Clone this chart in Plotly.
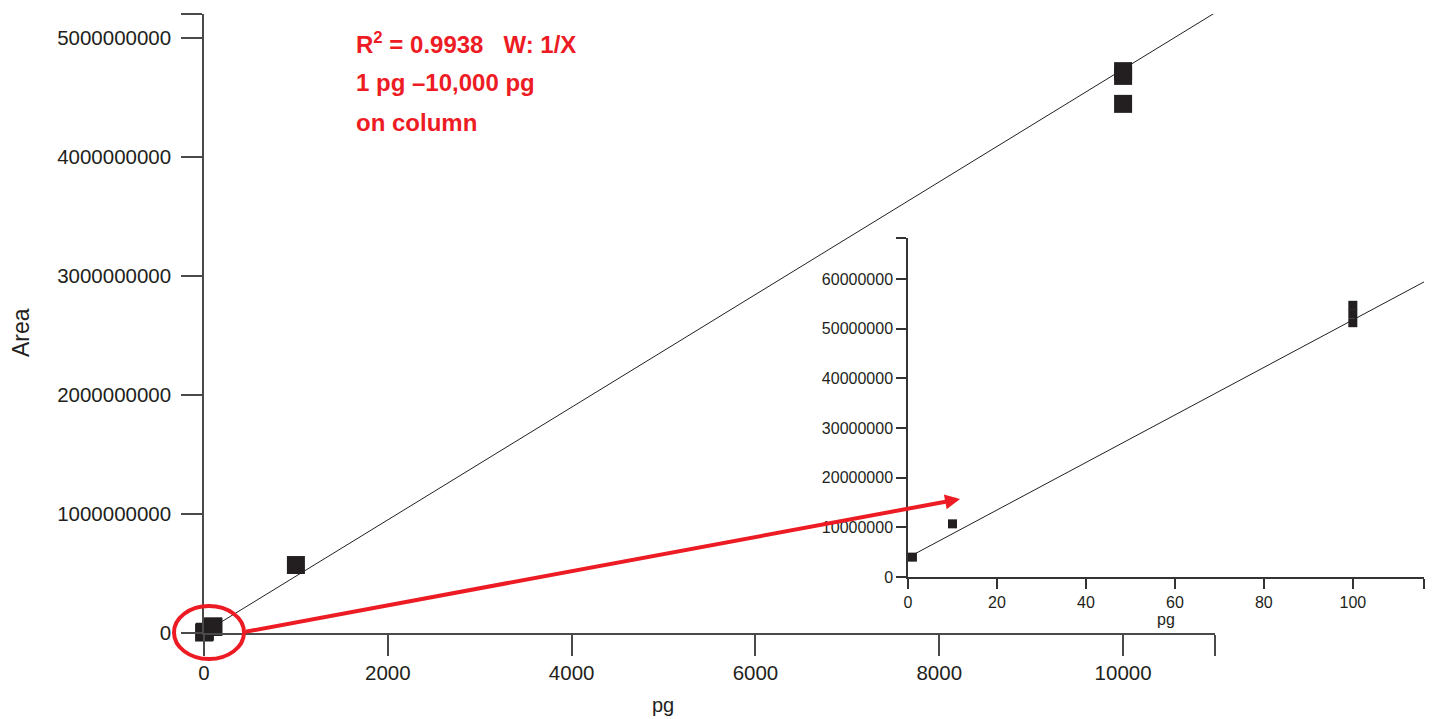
import plotly.graph_objects as go

# ---- data ----
amount_pg = [1, 10, 100, 100, 100, 1000, 10000, 10000, 10000]
area = [4.0e6, 1.07e7, 5.47e7, 5.30e7, 5.12e7, 5.71e8, 4.72e9, 4.68e9, 4.445e9]

# calibration line end points as drawn
main_fit_x = [1, 11000]
main_fit_y = [4.4e6, 5.21e9]
inset_fit_x = [1, 116.4]
inset_fit_y = [4.4e6, 5.96e7]

inset_max_x = 116
main_xticks = [0, 2000, 4000, 6000, 8000, 10000, 11000]
main_xtext = ["0", "2000", "4000", "6000", "8000", "10000", ""]
main_yticks = [0, 1e9, 2e9, 3e9, 4e9, 5e9, 5.2e9]
main_ytext = ["0", "1000000000", "2000000000", "3000000000", "4000000000", "5000000000", ""]
inset_xticks = [0, 20, 40, 60, 80, 100, 116]
inset_xtext = ["0", "20", "40", "60", "80", "100", ""]
inset_yticks = [0, 1e7, 2e7, 3e7, 4e7, 5e7, 6e7, 6.825e7]
inset_ytext = ["0", "10000000", "20000000", "30000000", "40000000", "50000000", "60000000", ""]

inset_x = [x for x in amount_pg if x <= inset_max_x]
inset_y = [y for x, y in zip(amount_pg, area) if x <= inset_max_x]

DARK = "#231F20"
AXIS = "#4a4a4a"
RED = "#ED1C24"
FONT = "Liberation Sans, Arial, sans-serif"

# screen layout (page body has an 8px margin)
BODY = 8
PLOT_L, PLOT_R, PLOT_T, PLOT_B = 204, 1424, 14, 633
W, H = 1437 - BODY, 719 - BODY


def px(sx):
    return (sx - PLOT_L) / (PLOT_R - PLOT_L)


def py(sy):
    return (PLOT_B - sy) / (PLOT_B - PLOT_T)


fig = go.Figure()

fig.add_trace(go.Scatter(x=main_fit_x, y=main_fit_y, mode="lines",
                         line=dict(color=DARK, width=1), xaxis="x", yaxis="y",
                         showlegend=False, hoverinfo="skip"))
fig.add_trace(go.Scatter(x=amount_pg, y=area, mode="markers",
                         marker=dict(symbol="square", size=18, color=DARK, line=dict(width=0)),
                         xaxis="x", yaxis="y", cliponaxis=False, showlegend=False))

fig.add_trace(go.Scatter(x=inset_fit_x, y=inset_fit_y, mode="lines",
                         line=dict(color=DARK, width=1), xaxis="x2", yaxis="y2",
                         showlegend=False, hoverinfo="skip"))
fig.add_trace(go.Scatter(x=inset_x, y=inset_y, mode="markers",
                         marker=dict(symbol="square", size=9, color=DARK, line=dict(width=0)),
                         xaxis="x2", yaxis="y2", cliponaxis=False, showlegend=False))

main_axis = dict(showline=True, linewidth=1.5, linecolor=AXIS, ticks="outside",
                 ticklen=21, tickwidth=1.5, tickcolor=AXIS, showgrid=False,
                 zeroline=False, tickfont=dict(family=FONT, size=20.5, color=DARK))
inset_axis = dict(showline=True, linewidth=1.5, linecolor="#333333", ticks="outside",
                  ticklen=10, tickwidth=1.5, tickcolor="#333333", showgrid=False,
                  zeroline=False, tickfont=dict(family=FONT, size=16, color=DARK))

fig.update_layout(
    width=W, height=H, autosize=False,
    margin=dict(l=PLOT_L - BODY, r=W - (PLOT_R - BODY), t=PLOT_T - BODY, b=H - (PLOT_B - BODY)),
    paper_bgcolor="white", plot_bgcolor="rgba(0,0,0,0)",
    showlegend=False,
    xaxis=dict(main_axis, domain=[0, px(1215)], range=[0, 11000], anchor="y",
               tickmode="array", tickvals=main_xticks, ticktext=main_xtext),
    yaxis=dict(main_axis, domain=[0, 1], range=[0, 5.2e9], anchor="x",
               tickmode="array", tickvals=main_yticks, ticktext=main_ytext,
               ticklabelstandoff=6),
    xaxis2=dict(inset_axis, domain=[px(908), 1], range=[0, inset_max_x], anchor="y2",
                tickmode="array", tickvals=inset_xticks, ticktext=inset_xtext,
                title=dict(text="pg", font=dict(family=FONT, size=16, color=DARK), standoff=0)),
    yaxis2=dict(inset_axis, domain=[py(577), py(238)], range=[0, 6.825e7], anchor="x2",
                tickmode="array", tickvals=inset_yticks, ticktext=inset_ytext),
)

# axis titles of the main chart
fig.add_annotation(text="pg", xref="paper", yref="paper", x=px(663), y=py(705),
                   showarrow=False, font=dict(family=FONT, size=20, color=DARK),
                   xanchor="center", yanchor="middle")
fig.add_annotation(text="Area", xref="paper", yref="paper", x=px(21), y=py(333),
                   showarrow=False, textangle=-90, font=dict(family=FONT, size=23, color=DARK),
                   xanchor="center", yanchor="middle")

# red notes
notes = ["<b>R<sup>2</sup>\u00a0= 0.9938\u00a0\u00a0\u00a0W: 1/X</b>",
         "<b>1 pg \u201310,000 pg</b>",
         "<b>on column</b>"]
note_y = [43, 83, 123]
for t, ny in zip(notes, note_y):
    fig.add_annotation(text=t, xref="paper", yref="paper", x=px(354), y=py(ny),
                       showarrow=False, font=dict(family=FONT, size=24, color=RED),
                       xanchor="left", yanchor="middle")

# red ellipse around the origin
fig.add_shape(type="circle", xref="paper", yref="paper", xsizemode="pixel", ysizemode="pixel",
              xanchor=px(209), yanchor=py(632.5), x0=-35, x1=35, y0=-26.5, y1=26.5,
              line=dict(color=RED, width=4), fillcolor="rgba(0,0,0,0)", layer="above")

# red arrow from the ellipse to the inset
fig.add_annotation(text="", xref="x2", yref="y2", x=11.7, y=1.57e7,
                   ax=-716, ay=133, showarrow=True, arrowhead=2, arrowsize=0.75,
                   arrowwidth=4, arrowcolor=RED, standoff=0, startstandoff=0)

fig.write_html("out.html")
